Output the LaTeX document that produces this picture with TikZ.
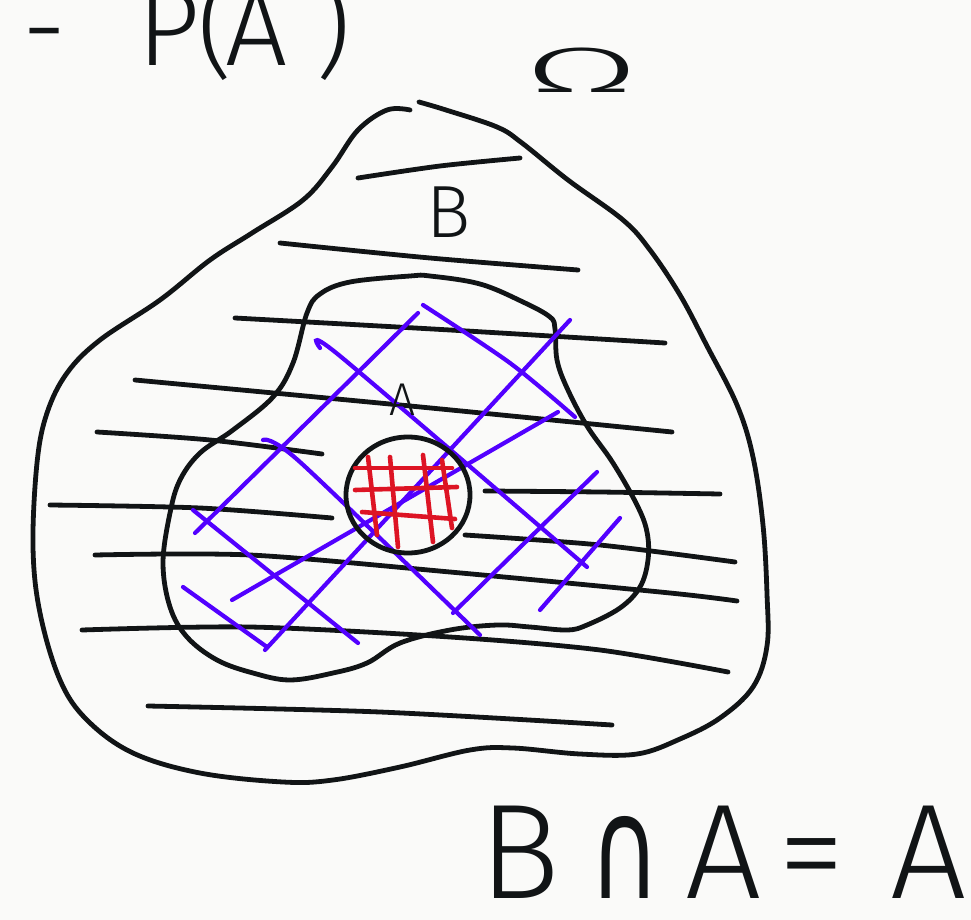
\documentclass[tikz,border=0pt]{standalone}
\usepackage{fontspec}
\newfontfamily\hand{Fira Sans Light}
\newfontfamily\sym{DejaVu Sans}
\definecolor{bgc}{HTML}{FAFAF9}
\definecolor{ink}{HTML}{111416}
\definecolor{violet}{HTML}{5200FF}
\definecolor{redink}{HTML}{DD1424}
\begin{document}
\begin{tikzpicture}[x=1pt,y=-1pt,
  pen/.style={draw=ink,line width=4.8pt,line cap=round,line join=round},
  bline/.style={pen},
  vline/.style={draw=violet,line width=4.2pt,line cap=round},
  rline/.style={draw=redink,line width=4.6pt,line cap=round},
  lbl/.style={inner sep=0pt,text=ink}]
\useasboundingbox (0,0) rectangle (971,920);
\fill[bgc] (0,0) rectangle (971,920);
% outer region (Omega)
\draw[pen] plot[smooth,tension=0.6] coordinates {(419,102) (446,110) (497,127) (522,143) (568,180) (623,220) (650,250) (680,295) (707,346) (737,405) (753,457) (763,525) (767,594) (767,646) (753,687) (720,718) (680,739) (637,754) (580,754) (513,748) (470,750) (400,767) (333,780) (283,782) (200,773) (133,753) (87,720) (60,680) (40,613) (33,547) (37,463) (47,413) (67,373) (100,340) (160,300) (210,260) (252,233) (303,200) (332,167) (358,130) (387,110) (410,110)};
% black hatching of B
\draw[bline] plot[smooth] coordinates {(358,178) (440,166) (520,158)};
\draw[bline] plot[smooth] coordinates {(280,243) (430,258) (578,270)};
\draw[bline] plot[smooth] coordinates {(235,318) (450,330) (665,343)};
\draw[bline] plot[smooth] coordinates {(135,380) (400,405) (672,432)};
\draw[bline] plot[smooth] coordinates {(97,432) (210,440) (322,454)};
\draw[bline] plot[smooth] coordinates {(50,505) (200,508) (332,518)};
\draw[bline] plot[smooth] coordinates {(485,491) (600,492) (720,494)};
\draw[bline] plot[smooth] coordinates {(465,535) (600,545) (735,562)};
\draw[bline] plot[smooth] coordinates {(95,555) (250,555) (450,572) (670,593) (737,601)};
\draw[bline] plot[smooth] coordinates {(82,630) (250,627) (450,637) (600,650) (728,672)};
\draw[bline] plot[smooth] coordinates {(148,706) (380,712) (612,725)};
% inner region (A)
\draw[pen] plot[smooth cycle,tension=0.6] coordinates {(430,276) (480,284) (523,302) (550,317) (555,329) (557,360) (567,388) (587,426) (613,463) (637,505) (647,532) (648,560) (640,587) (620,608) (587,625) (567,630) (530,627) (497,625) (450,630) (400,643) (367,663) (333,673) (290,680) (253,673) (217,660) (187,637) (170,607) (163,563) (170,513) (180,480) (200,453) (233,430) (273,397) (293,363) (307,313) (320,294) (350,282) (410,276)};
% violet hatching of A
\draw[vline] (418,313) -- (195,533);
\draw[vline] (570,320) -- (265,650);
\draw[vline] (558,412) -- (232,600);
\draw[vline] (597,472) -- (453,613);
\draw[vline] (620,518) -- (540,610);
\draw[vline] plot[smooth] coordinates {(423,305) (510,363) (575,417)};
\draw[vline] plot[smooth] coordinates {(320,348) (340,356) (587,567)};
\draw[vline] plot[smooth] coordinates {(263,440) (300,462) (480,635)};
\draw[vline] (193,510) -- (358,643);
\draw[vline] (183,587) -- (267,647);
% small circle and red grid
\draw[pen] (408,495) ellipse [x radius=62pt, y radius=58pt];
\draw[rline] (355,468) -- (452,468);
\draw[rline] (355,490) -- (457,487);
\draw[rline] (362,512) -- (455,519);
\draw[rline] (368,457) -- (377,535);
\draw[rline] (390,457) -- (398,547);
\draw[rline] (423,455) -- (433,542);
\draw[rline] (442,460) -- (452,528);
% labels
\node[lbl,anchor=base west] (pa) at (22,66) {\hand\fontsize{110}{110}\selectfont\makebox[115pt][l]{-}\makebox[60pt][l]{P}\makebox[28pt][l]{(}\makebox[90pt][l]{A})};
\node[lbl,xscale=2.6] (om) at (582,70) {\hand\fontsize{64}{64}\selectfont Ω};
\node[lbl] (lb) at (449,212) {\hand\fontsize{74}{74}\selectfont B};
\node[lbl] (la) at (402,400) {\hand\fontsize{46}{46}\selectfont A};
\node[lbl,anchor=base west,text depth=0pt] (eq) at (479,898) {\hand\fontsize{135}{135}\selectfont\makebox[110pt][l]{B}\makebox[96pt][l]{\sym\scalebox{0.72}[1.05]{∩}}\makebox[93pt][l]{A}\makebox[112pt][l]{=}A};
\end{tikzpicture}
\end{document}
